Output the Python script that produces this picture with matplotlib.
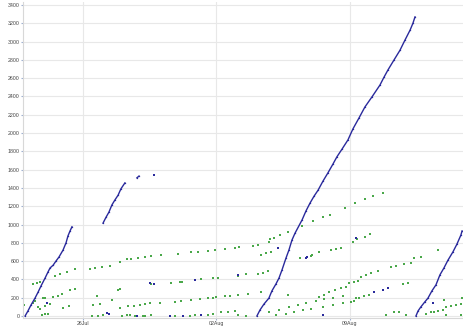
import matplotlib
matplotlib.use("Agg")
import matplotlib.pyplot as plt

# x values: days relative to 26 Jul; y values: sequence count
blue_seg1_x = [-3.04, -2.89, -2.73, -2.52, -2.36, -2.20, -1.99, -1.84, -1.73, -1.57, -1.42, -1.26, -1.05, -0.89, -0.79, -0.68, -0.58]
blue_seg1_y = [0, 55, 120, 195, 260, 330, 415, 480, 525, 555, 600, 645, 720, 800, 875, 930, 975]

blue_seg2_x = [1.05, 1.21, 1.36, 1.52, 1.68, 1.84, 1.99, 2.20]
blue_seg2_y = [1015, 1080, 1135, 1215, 1270, 1320, 1390, 1455]

blue_seg3_x = [2.83, 2.94]
blue_seg3_y = [1510, 1530]

blue_seg4_x = [9.13, 9.29, 9.50, 9.76, 9.92, 10.13, 10.29, 10.45, 10.66, 10.81, 10.97, 11.13, 11.50, 11.71, 11.92,
               12.13, 12.34, 12.60, 12.86, 13.12, 13.33, 13.60, 13.91, 14.17, 14.49, 14.80, 15.17, 15.59, 15.80,
               16.01, 16.33, 16.64, 16.90, 17.17, 17.32, 17.43]
blue_seg4_y = [0, 65, 130, 195, 275, 350, 415, 505, 635, 720, 830, 905, 1050, 1150, 1235,
               1310, 1375, 1475, 1565, 1660, 1740, 1825, 1925, 2045, 2165, 2285, 2395, 2525, 2610,
               2690, 2800, 2905, 3015, 3125, 3200, 3270]

blue_seg5_x = [17.48, 17.59, 17.74, 17.95, 18.11, 18.32, 18.53, 18.74, 18.95, 19.16, 19.42, 19.63, 19.84, 19.90]
blue_seg5_y = [0, 55, 100, 155, 195, 275, 340, 450, 525, 610, 700, 785, 885, 930]

blue_pts_x = [3.73, 14.33, 3.73, 5.88, 10.24, 8.14, 11.71, 5.25, 1.36, 1.26, 2.83, 12.60, 15.75, 16.01, 15.28,
              18.37, 4.57, 6.19, 11.76, 3.52, -1.89]
blue_pts_y = [1540, 855, 350, 395, 745, 450, 635, 0, 20, 30, 0, 10, 285, 305, 260,
              140, 0, 10, 645, 360, 140]

green_x = [-3.10, -2.62, -2.41, -2.26, -2.62, -2.52, -2.36, -2.26, -2.10, -1.99, -2.15, -1.99, -1.84, -1.99, -1.73,
           -1.57, -1.31, -1.10, -1.47, -1.21, -0.84, -0.42, -1.05, -0.73, -0.68, -0.42, 0.37, 0.63, 1.00, 1.42,
           1.94, 2.31, 0.73, 0.52, 0.89, 0.47, 0.79, 1.05, 1.52, 1.84, 1.94, 1.94, 2.05, 2.31, 2.36,
           2.52, 2.89, 3.25, 3.57, 4.09, 4.99, 5.67, 6.04, 6.56, 6.93, 7.45, 7.98,
           3.57, 4.62, 5.09, 5.20, 6.19, 6.82, 7.09, 8.14,
           2.68, 2.99, 3.25, 3.52, 4.04, 4.83, 5.14, 5.67, 6.14, 6.56, 6.82, 6.98, 7.45, 7.72, 8.14,
           2.47, 2.73, 3.15, 3.25, 3.57, 4.83, 5.62, 5.88, 6.56, 6.82, 7.24, 7.61, 7.98,
           8.19, 8.92, 9.19, 9.76, 10.03, 9.34, 9.61, 9.87, 11.97, 12.39, 13.02, 13.28, 13.54,
           8.56, 9.19, 9.45, 9.71, 8.66, 9.34, 10.76, 12.39, 12.65, 12.91, 13.23, 13.54, 13.81,
           8.14, 8.56, 9.76, 10.29, 10.81, 11.29, 11.71, 12.23, 12.65, 13.12, 13.65,
           10.13, 10.66, 11.08, 11.55, 11.97, 12.60, 13.12, 13.65,
           9.82, 10.34, 10.76, 11.50, 12.07, 12.60, 12.97, 13.75, 14.28, 14.80, 15.22, 15.75,
           14.38, 14.80, 15.07, 14.17, 11.39, 12.02,
           18.64, 17.74, 17.38, 16.17, 16.43, 16.85, 17.22, 15.49, 14.59, 14.86, 15.12, 13.96, 14.23, 14.44,
           16.80, 17.06, 14.75, 15.01, 14.33, 14.49, 14.07, 14.23, 15.91, 16.33, 16.59, 16.96, 18.01, 18.27,
           18.43, 18.64, 18.90, 19.06, 19.32, 19.58, 19.84, 18.95, 19.90, 19.06, 19.84]
green_y = [120, 350, 360, 370, 140, 165, 100, 75, 195, 195, 10, 20, 20, 110, 130,
           210, 220, 240, 435, 460, 480, 515, 85, 110, 285, 295, 515, 525, 535, 545,
           590, 625, 220, 120, 130, 0, 0, 10, 175, 285, 295, 85, 0, 10, 110,
           625, 635, 645, 655, 665, 680, 700, 700, 710, 720, 730, 745,
           350, 360, 370, 370, 405, 415, 415, 435,
           110, 120, 130, 140, 140, 155, 165, 175, 185, 195, 195, 210, 220, 220, 230,
           10, 0, 0, 0, 10, 0, 0, 10, 10, 20, 45, 45, 55,
           755, 765, 775, 810, 855, 665, 690, 700, 655, 700, 720, 730, 745,
           460, 460, 470, 490, 240, 260, 230, 210, 230, 260, 285, 305, 315,
           10, 0, 45, 65, 100, 120, 140, 165, 185, 195, 220,
           10, 20, 45, 65, 75, 100, 120, 140,
           840, 885, 920, 985, 1040, 1080, 1105, 1180, 1235, 1280, 1310, 1345,
           840, 865, 895, 810, 635, 665,
           720, 645, 635, 535, 545, 570, 580, 490, 425, 450, 470, 360, 370, 385,
           350, 360, 220, 230, 195, 195, 155, 165, 10, 45, 45, 10, 20, 45,
           45, 55, 65, 100, 110, 120, 130, 175, 195, 10, 10]

x_tick_pos = [0, 7, 14]
x_tick_labels = ["26Jul", "02Aug", "09Aug"]
y_ticks = list(range(0, 3401, 200))

W, H = 463, 327
fig = plt.figure(figsize=(W / 100, H / 100), dpi=100)
ax = fig.add_axes([23 / W, (H - 318) / H, 440 / W, 316 / H])

navy = "#2a2a9c"
green = "#4aa84a"

for xs, ys in [(blue_seg1_x, blue_seg1_y), (blue_seg2_x, blue_seg2_y), (blue_seg3_x, blue_seg3_y),
               (blue_seg4_x, blue_seg4_y), (blue_seg5_x, blue_seg5_y)]:
    ax.plot(xs, ys, color=navy, lw=1.0, marker="s", ms=0.9, mew=0, zorder=3)
ax.scatter(blue_pts_x, blue_pts_y, s=1.6, marker="s", color=navy, linewidths=0, zorder=3)
ax.scatter(green_x, green_y, s=1.6, marker="s", color=green, linewidths=0, zorder=2)

ax.set_xlim(-3.15, 19.95)
ax.set_ylim(-22, 3433)
ax.set_yticks(y_ticks)
ax.set_yticklabels([str(v) for v in y_ticks])
ax.set_xticks(x_tick_pos)
ax.set_xticklabels(x_tick_labels)

ax.grid(True, color="#e8e8e8", lw=0.8, zorder=0)
ax.set_axisbelow(True)
for side in ["top", "right"]:
    ax.spines[side].set_visible(False)
ax.spines["left"].set_color("#d8d8d8")
ax.spines["bottom"].set_color("#d8d8d8")
ax.spines["left"].set_linewidth(0.8)
ax.spines["bottom"].set_linewidth(0.8)
ax.tick_params(axis="both", length=1.5, width=0.8, color="#9fb0d0", pad=1,
               labelsize=3.8, labelcolor="#444444")
for lab in ax.get_xticklabels() + ax.get_yticklabels():
    lab.set_family("Liberation Sans")

fig.savefig("out.png", dpi=100)
